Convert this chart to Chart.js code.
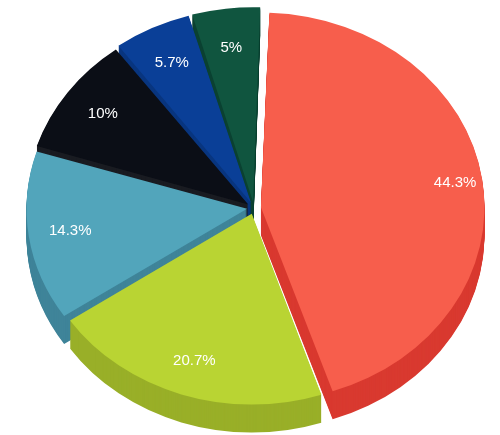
<!DOCTYPE html>
<html>
<head>
<script src="https://cdn.jsdelivr.net/npm/chart.js@4"></script>
<style>
body{margin:0;background:#fff;}
#wrap{width:500px;height:435px;overflow:hidden;}
</style>
</head>
<body>
<div id="wrap"><canvas id="mycanvas" width="500" height="500"></canvas></div>
<script>
var labels = ['A', 'B', 'C', 'D', 'E', 'F'];
var values = [44.3, 20.7, 14.3, 10, 5.7, 5];
var topColors = ['#F75E4C', '#B9D433', '#52A5BB', '#0B0E16', '#0A3F97', '#10553F'];
var sideColors = ['#D93A30', '#99AF28', '#3F8499', '#1A1C22', '#08357F', '#0C4232'];

var SCALE_Y = 0.87, CENTER_Y = 208, DEPTH = 28;

function tilt(ctx, chart) {
	var cy = (chart.chartArea.top + chart.chartArea.bottom) / 2;
	ctx.translate(0, CENTER_Y);
	ctx.scale(1, SCALE_Y);
	ctx.translate(0, -cy);
}

var pie3d = {
	id: 'pie3d',
	beforeDatasetsDraw: function(chart) {
		var ctx = chart.ctx;
		var meta = chart.getDatasetMeta(0);
		for (var d = DEPTH; d >= 1; d--) {
			ctx.save();
			ctx.translate(0, d);
			tilt(ctx, chart);
			meta.data.forEach(function(arc, i) {
				var o = arc.options;
				var bg = o.backgroundColor;
				o.backgroundColor = sideColors[i];
				o.borderColor = sideColors[i];
				arc.draw(ctx);
				o.backgroundColor = bg;
				o.borderColor = bg;
			});
			ctx.restore();
		}
		ctx.save();
		tilt(ctx, chart);
	},
	afterDatasetsDraw: function(chart) {
		var ctx = chart.ctx;
		ctx.restore();
		var cy = (chart.chartArea.top + chart.chartArea.bottom) / 2;
		var meta = chart.getDatasetMeta(0);
		ctx.save();
		ctx.fillStyle = '#fff';
		ctx.font = '15px "Liberation Sans", Arial, sans-serif';
		ctx.textAlign = 'center';
		ctx.textBaseline = 'middle';
		meta.data.forEach(function(arc, i) {
			var a = (arc.startAngle + arc.endAngle) / 2;
			var r = arc.outerRadius * (values[i] > 30 ? 0.8 : 0.72) + arc.options.offset;
			var x = arc.x + Math.cos(a) * r;
			var y = CENTER_Y + (arc.y + Math.sin(a) * r - cy) * SCALE_Y;
			ctx.fillText(values[i] + '%', x, y);
		});
		ctx.restore();
	}
};

var ctx = document.getElementById('mycanvas');
new Chart(ctx, {
	type: 'pie',
	data: {
		labels: labels,
		datasets: [{
			data: values,
			backgroundColor: topColors,
			borderColor: topColors,
			borderWidth: 0,
			offset: 28
		}]
	},
	options: {
		responsive: false,
		animation: false,
		rotation: 2,
		layout: {padding: {left: 21, right: 13, top: 17, bottom: 17}},
		plugins: {legend: {display: false}, tooltip: {enabled: false}}
	},
	plugins: [pie3d]
});
</script>
</body>
</html>
